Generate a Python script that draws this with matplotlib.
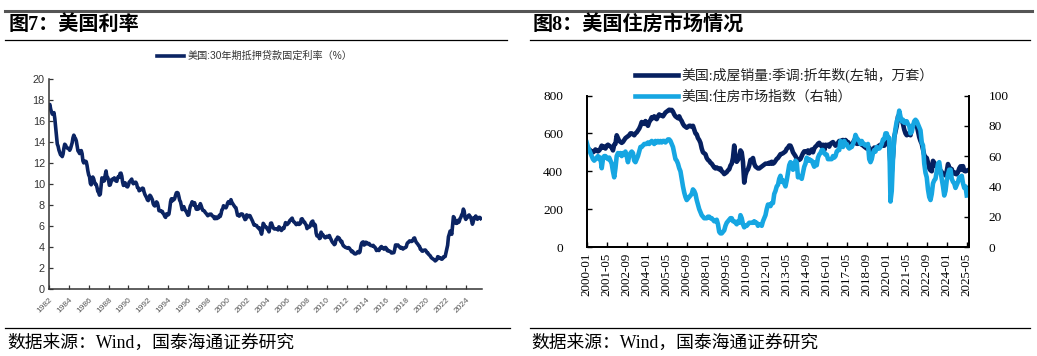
import matplotlib
matplotlib.use("Agg")
import matplotlib.pyplot as plt
from matplotlib.lines import Line2D
import numpy as np

# ---------------- data ----------------
# Left: US 30Y fixed mortgage rate (%), monthly from 1982-01
rate_start_year = 1982
mortgage_rate = [
    17.48, 17.60, 17.16, 16.89, 16.68, 16.70, 16.82, 16.27, 15.43, 14.61, 13.83, 13.62,  # 1982
    13.25, 13.04, 12.80, 12.78, 12.63, 12.87, 13.42, 13.81, 13.73, 13.54, 13.44, 13.42,  # 1983
    13.37, 13.23, 13.39, 13.65, 13.94, 14.42, 14.67, 14.47, 14.35, 14.13, 13.64, 13.18,  # 1984
    13.08, 12.92, 13.17, 13.20, 12.91, 12.22, 12.03, 12.19, 12.19, 12.14, 11.78, 11.26,  # 1985
    10.88, 10.71, 10.08, 9.94, 10.14, 10.68, 10.51, 10.20, 10.01, 9.98, 9.70, 9.32,      # 1986
    9.20, 8.95, 9.04, 9.83, 10.60, 10.54, 10.28, 10.33, 10.89, 11.26, 10.65, 10.64,      # 1987
    10.38, 9.89, 9.93, 10.20, 10.46, 10.46, 10.43, 10.60, 10.48, 10.30, 10.27, 10.61,    # 1988
    10.73, 10.65, 11.03, 11.05, 10.77, 10.20, 9.88, 9.99, 10.13, 9.95, 9.77, 9.74,       # 1989
    9.90, 10.20, 10.27, 10.37, 10.48, 10.16, 10.04, 10.10, 10.18, 10.18, 10.01, 9.67,    # 1990
    9.64, 9.37, 9.50, 9.49, 9.47, 9.62, 9.58, 9.24, 9.01, 8.86, 8.71, 8.50,              # 1991
    8.43, 8.76, 8.94, 8.85, 8.67, 8.51, 8.13, 7.98, 7.92, 8.09, 8.31, 8.22,              # 1992
    7.91, 7.47, 7.46, 7.46, 7.37, 7.40, 7.21, 7.11, 6.92, 6.83, 7.16, 7.17,              # 1993
    7.06, 7.15, 7.68, 8.32, 8.60, 8.40, 8.61, 8.51, 8.64, 8.93, 9.17, 9.20,              # 1994
    9.15, 8.83, 8.46, 8.32, 7.96, 7.57, 7.61, 7.86, 7.64, 7.48, 7.38, 7.20,              # 1995
    7.03, 7.08, 7.62, 7.93, 8.07, 8.32, 8.25, 8.00, 8.23, 7.92, 7.62, 7.60,              # 1996
    7.82, 7.65, 7.90, 8.14, 7.94, 7.69, 7.50, 7.48, 7.43, 7.29, 7.21, 7.10,              # 1997
    6.99, 7.04, 7.13, 7.14, 7.14, 7.00, 6.95, 6.92, 6.72, 6.71, 6.87, 6.72,              # 1998
    6.79, 6.81, 7.04, 6.92, 7.15, 7.55, 7.63, 7.94, 7.82, 7.85, 7.74, 7.91,              # 1999
    8.21, 8.33, 8.24, 8.15, 8.52, 8.29, 8.15, 8.03, 7.91, 7.80, 7.75, 7.38,              # 2000
    7.03, 7.05, 6.95, 7.08, 7.15, 7.16, 7.13, 6.95, 6.82, 6.62, 6.66, 7.07,              # 2001
    7.00, 6.89, 7.01, 6.99, 6.81, 6.65, 6.49, 6.29, 6.09, 6.11, 6.07, 6.05,              # 2002
    5.92, 5.84, 5.75, 5.81, 5.48, 5.23, 5.63, 6.26, 6.15, 5.95, 5.93, 5.88,              # 2003
    5.71, 5.64, 5.45, 5.83, 6.27, 6.29, 6.06, 5.87, 5.75, 5.72, 5.73, 5.75,              # 2004
    5.71, 5.63, 5.93, 5.86, 5.72, 5.58, 5.70, 5.82, 5.77, 6.07, 6.33, 6.27,              # 2005
    6.15, 6.25, 6.32, 6.51, 6.60, 6.68, 6.76, 6.52, 6.40, 6.36, 6.24, 6.14,              # 2006
    6.22, 6.29, 6.16, 6.18, 6.26, 6.66, 6.70, 6.57, 6.38, 6.38, 6.21, 6.10,              # 2007
    5.76, 5.92, 5.97, 5.92, 6.04, 6.32, 6.43, 6.48, 6.04, 6.20, 6.09, 5.33,              # 2008
    5.06, 5.13, 5.00, 4.81, 4.86, 5.42, 5.22, 5.19, 5.06, 4.95, 4.88, 4.93,              # 2009
    5.03, 4.99, 4.97, 5.10, 4.89, 4.74, 4.56, 4.43, 4.35, 4.23, 4.30, 4.71,              # 2010
    4.76, 4.95, 4.84, 4.84, 4.64, 4.51, 4.55, 4.27, 4.11, 4.07, 3.99, 3.96,              # 2011
    3.92, 3.89, 3.95, 3.91, 3.80, 3.68, 3.55, 3.60, 3.50, 3.38, 3.35, 3.35,              # 2012
    3.41, 3.53, 3.57, 3.45, 3.54, 4.07, 4.37, 4.46, 4.49, 4.19, 4.26, 4.46,              # 2013
    4.43, 4.30, 4.34, 4.34, 4.19, 4.16, 4.13, 4.12, 4.16, 4.04, 4.00, 3.86,              # 2014
    3.67, 3.71, 3.77, 3.67, 3.84, 3.98, 4.05, 3.91, 3.89, 3.80, 3.94, 3.96,              # 2015
    3.87, 3.66, 3.69, 3.61, 3.60, 3.57, 3.44, 3.44, 3.46, 3.47, 3.77, 4.20,              # 2016
    4.15, 4.17, 4.20, 4.05, 4.01, 3.90, 3.97, 3.88, 3.81, 3.90, 3.92, 3.95,              # 2017
    4.03, 4.33, 4.44, 4.47, 4.59, 4.57, 4.53, 4.55, 4.63, 4.83, 4.87, 4.64,              # 2018
    4.46, 4.37, 4.27, 4.14, 4.07, 3.80, 3.77, 3.62, 3.61, 3.69, 3.70, 3.72,              # 2019
    3.62, 3.47, 3.45, 3.31, 3.23, 3.16, 3.02, 2.94, 2.89, 2.83, 2.77, 2.68,              # 2020
    2.74, 2.81, 3.08, 3.06, 2.96, 2.98, 2.87, 2.84, 2.90, 3.07, 3.07, 3.10,              # 2021
    3.45, 3.76, 4.17, 4.98, 5.23, 5.52, 5.41, 5.22, 6.11, 6.90, 6.80, 6.36,              # 2022
    6.27, 6.26, 6.54, 6.34, 6.43, 6.71, 6.84, 7.07, 7.20, 7.62, 7.44, 6.82,              # 2023
    6.64, 6.78, 6.82, 7.00, 7.06, 6.92, 6.85, 6.50, 6.18, 6.43, 6.81, 6.72,              # 2024
    6.96, 6.84, 6.65, 6.73, 6.82, 6.82, 6.72,                                            # 2025
]
rate_tick_labels = [str(y) for y in range(1982, 2025, 2)]
rate_legend = "美国:30年期抵押贷款固定利率（%）"

# Right: existing home sales SAAR (10k units, left axis) and NAHB HMI (right axis), monthly 2000-01 .. 2025-05
existing_home_sales = [
    530, 520, 515, 510, 505, 500, 505, 515, 510, 505, 510, 520,   # 2000
    535, 525, 530, 520, 535, 540, 535, 530, 525, 510, 540, 545,   # 2001
    590, 575, 560, 555, 550, 555, 565, 575, 580, 585, 590, 600,   # 2002
    600, 595, 590, 600, 605, 615, 625, 640, 660, 655, 650, 665,   # 2003
    650, 640, 660, 670, 685, 680, 690, 680, 675, 690, 700, 695,   # 2004
    695, 690, 700, 710, 715, 720, 725, 722, 724, 715, 700, 690,   # 2005
    685, 680, 690, 675, 665, 650, 640, 635, 630, 635, 640, 640,   # 2006
    635, 640, 620, 600, 595, 575, 565, 550, 520, 500, 495, 490,   # 2007
    470, 460, 455, 445, 440, 430, 420, 415, 420, 415, 410, 415,   # 2008
    400, 395, 385, 390, 395, 405, 410, 430, 440, 470, 536, 460,   # 2009
    450, 460, 480, 510, 500, 450, 340, 380, 400, 410, 430, 460,   # 2010
    455, 470, 440, 425, 420, 415, 415, 420, 425, 430, 435, 440,   # 2011
    440, 440, 445, 440, 450, 440, 445, 455, 465, 470, 480, 490,   # 2012
    492, 495, 500, 505, 519, 525, 536, 535, 520, 500, 490, 480,   # 2013
    466, 460, 460, 465, 480, 495, 505, 505, 500, 510, 495, 505,   # 2014
    515, 500, 520, 530, 535, 545, 550, 540, 530, 540, 510, 540,   # 2015
    536, 540, 530, 545, 550, 554, 545, 535, 540, 550, 560, 555,   # 2016
    563, 565, 560, 565, 555, 554, 545, 540, 540, 550, 565, 560,   # 2017
    545, 545, 550, 545, 540, 536, 530, 525, 520, 520, 525, 505,   # 2018
    500, 510, 525, 520, 525, 530, 536, 540, 540, 535, 535, 545,   # 2019
    563, 560, 530, 435, 395, 480, 580, 610, 640, 690, 680, 670,   # 2020
    668, 650, 620, 600, 590, 598, 600, 590, 630, 640, 650, 642,   # 2021
    642, 610, 580, 560, 545, 515, 485, 475, 470, 445, 415, 405,   # 2022
    400, 455, 445, 430, 430, 416, 407, 404, 396, 385, 382, 378,   # 2023
    400, 438, 419, 414, 411, 389, 395, 386, 384, 396, 415, 426,   # 2024
    408, 427, 402, 400, 403,                                      # 2025
]
nahb_index = [
    69, 66, 64, 62, 60, 58, 57, 58, 59, 60, 58, 59,   # 2000
    52, 58, 60, 60, 59, 58, 59, 57, 55, 50, 46, 52,   # 2001
    60, 62, 61, 62, 60, 62, 61, 63, 60, 56, 60, 62,   # 2002
    63, 62, 57, 56, 58, 60, 63, 66, 66, 67, 68, 68,   # 2003
    68, 69, 68, 69, 70, 69, 68, 70, 69, 70, 69, 70,   # 2004
    69, 70, 70, 69, 70, 71, 71, 70, 68, 66, 62, 58,   # 2005
    57, 55, 52, 50, 45, 40, 36, 33, 31, 32, 33, 34,   # 2006
    35, 38, 37, 35, 31, 28, 25, 23, 21, 20, 19, 19,   # 2007
    19, 20, 20, 19, 19, 18, 17, 17, 18, 15, 10, 9,    # 2008
    9, 10, 11, 14, 16, 17, 18, 19, 19, 17, 17, 16,    # 2009
    15, 17, 16, 21, 19, 15, 13, 14, 14, 15, 16, 16,   # 2010
    16, 16, 17, 16, 16, 14, 15, 15, 14, 17, 19, 21,   # 2011
    25, 28, 28, 27, 29, 29, 35, 37, 40, 41, 45, 47,   # 2012
    43, 44, 42, 40, 44, 49, 54, 56, 55, 51, 54, 57,   # 2013
    56, 46, 47, 46, 45, 49, 53, 55, 59, 57, 58, 57,   # 2014
    57, 55, 53, 56, 54, 59, 61, 62, 64, 64, 62, 61,   # 2015
    61, 58, 58, 58, 58, 60, 59, 60, 63, 64, 64, 70,   # 2016
    68, 66, 70, 68, 68, 66, 65, 66, 66, 68, 70, 74,   # 2017
    72, 71, 70, 68, 70, 68, 68, 67, 67, 68, 58, 56,   # 2018
    58, 62, 64, 63, 66, 65, 65, 66, 68, 71, 71, 75,   # 2019
    75, 72, 72, 30, 37, 58, 72, 78, 83, 85, 90, 86,   # 2020
    83, 84, 82, 83, 83, 81, 80, 75, 76, 80, 83, 84,   # 2021
    83, 81, 79, 77, 69, 67, 55, 49, 46, 38, 33, 31,   # 2022
    35, 42, 44, 45, 50, 55, 56, 50, 45, 40, 34, 37,   # 2023
    44, 48, 51, 51, 45, 43, 42, 39, 41, 43, 46, 46,   # 2024
    47, 42, 39, 40, 34,                               # 2025
]
house_tick_labels = ["2000-01", "2001-05", "2002-09", "2004-01", "2005-05", "2006-09",
                     "2008-01", "2009-05", "2010-09", "2012-01", "2013-05", "2014-09",
                     "2016-01", "2017-05", "2018-09", "2020-01", "2021-05", "2022-09",
                     "2024-01", "2025-05"]
house_legend = ["美国:成屋销量:季调:折年数(左轴，万套）", "美国:住房市场指数（右轴）"]

title_left = "图7：美国利率"
title_right = "图8：美国住房市场情况"
source_text = "数据来源：Wind，国泰海通证券研究"

# ---------------- style ----------------
W, H = 1037, 356
CJK = "Noto Sans CJK SC"
SERIF = ["Liberation Serif", CJK]
SANS = ["Liberation Sans", CJK]
navy = "#0b2463"
dark = "#062060"
light = "#16a6e2"

fig = plt.figure(figsize=(W / 100, H / 100), dpi=100)

def fx(px):
    return px / W

def fy(py):
    return 1 - py / H

# ---------------- left chart ----------------
ax1 = fig.add_axes([fx(49), fy(289), fx(482) - fx(49), fy(79.3) - fy(289)])
x_rate = rate_start_year + np.arange(len(mortgage_rate)) / 12.0
ax1.plot(x_rate, mortgage_rate, color=navy, lw=2.6, solid_joinstyle="round", label=rate_legend)
ax1.set_xlim(1982, 2025.63)
ax1.set_ylim(0, 20)
ax1.set_yticks(np.arange(0, 21, 2))
ax1.set_xticks([int(t) for t in rate_tick_labels])
ax1.set_xticklabels(rate_tick_labels, rotation=45, ha="right", va="top",
                    rotation_mode="anchor", fontsize=6.0, color="#555555", family=SANS)
for lab in ax1.get_yticklabels():
    lab.set_fontsize(7.8)
    lab.set_color("#333333")
    lab.set_family(SANS)
for s in ["top", "right"]:
    ax1.spines[s].set_visible(False)
for s in ["left", "bottom"]:
    ax1.spines[s].set_color("#333333")
    ax1.spines[s].set_linewidth(1.1)
ax1.tick_params(axis="both", direction="in", length=3, width=0.9, color="#333333", pad=3)
ax1.tick_params(axis="x", pad=5)
ax1.legend(loc="upper left", bbox_to_anchor=(fx(157), fy(51)), bbox_transform=fig.transFigure,
           frameon=False, borderpad=0, borderaxespad=0, handlelength=2.7, handletextpad=0.3,
           prop={"family": SANS, "size": 7.3}, labelcolor="#333333")

# ---------------- right chart ----------------
ax2 = fig.add_axes([fx(586.7), fy(247), fx(969) - fx(586.7), fy(95.5) - fy(247)])
ax3 = ax2.twinx()
m = np.arange(len(existing_home_sales))
start_y, start_m = 2000, 1
month_names = ["%d-%02d" % (start_y + (start_m - 1 + i) // 12, (start_m - 1 + i) % 12 + 1) for i in m]
l1, = ax2.plot(m, existing_home_sales, color=dark, lw=3.3, solid_joinstyle="round", label=house_legend[0])
l2, = ax3.plot(m, nahb_index, color=light, lw=3.3, solid_joinstyle="round", label=house_legend[1])
ax2.set_xlim(0, len(m) - 1 + 1.8)
ax2.set_ylim(0, 800)
ax3.set_ylim(0, 100)
ax2.set_yticks(np.arange(0, 801, 200))
ax3.set_yticks(np.arange(0, 101, 20))
ax2.set_xticks([month_names.index(t) for t in house_tick_labels])
ax2.set_xticklabels(house_tick_labels, rotation=90, fontsize=9.4, family=SERIF, va="top")
for lab in ax2.get_yticklabels() + ax3.get_yticklabels():
    lab.set_fontsize(9.6)
    lab.set_family(SERIF)
for a in (ax2, ax3):
    a.spines["top"].set_visible(False)
    for s in ["left", "right", "bottom"]:
        a.spines[s].set_linewidth(1.3)
        a.spines[s].set_color("black")
    a.tick_params(axis="both", direction="in", length=3.5, width=1.0, color="black")
ax2.tick_params(axis="y", pad=17)
ax3.tick_params(axis="y", pad=14)
ax2.tick_params(axis="x", pad=4)
ax2.legend(handles=[l1, l2], loc="upper left", bbox_to_anchor=(fx(635), fy(67.5)),
           bbox_transform=fig.transFigure, frameon=False, borderpad=0, borderaxespad=0,
           handlelength=3.1, handletextpad=0.25, labelspacing=0.55,
           prop={"family": SERIF, "size": 10.0}, labelcolor="#222222")

# ---------------- decorations ----------------
deco = fig.add_axes([0, 0, 1, 1], zorder=-1)
deco.set_xlim(0, W)
deco.set_ylim(H, 0)
deco.axis("off")
deco.add_line(Line2D([5, 1032], [10.5, 10.5], color="#555555", lw=2.2))
deco.add_line(Line2D([5, 507], [39.5, 39.5], color="black", lw=0.9))
deco.add_line(Line2D([530, 1030], [39.5, 39.5], color="black", lw=0.9))
deco.add_line(Line2D([5, 510], [328, 328], color="black", lw=0.9))
deco.add_line(Line2D([530, 1030], [328, 328], color="black", lw=0.9))
deco.text(9, 25, title_left, fontsize=14.5, fontweight="bold", family=SERIF, va="center", ha="left")
deco.text(533, 25, title_right, fontsize=14.5, fontweight="bold", family=SERIF, va="center", ha="left")
deco.text(7, 343, source_text, fontsize=12.8, family=SERIF, va="center", ha="left")
deco.text(531, 343, source_text, fontsize=12.8, family=SERIF, va="center", ha="left")

fig.savefig("out.png", dpi=100)
